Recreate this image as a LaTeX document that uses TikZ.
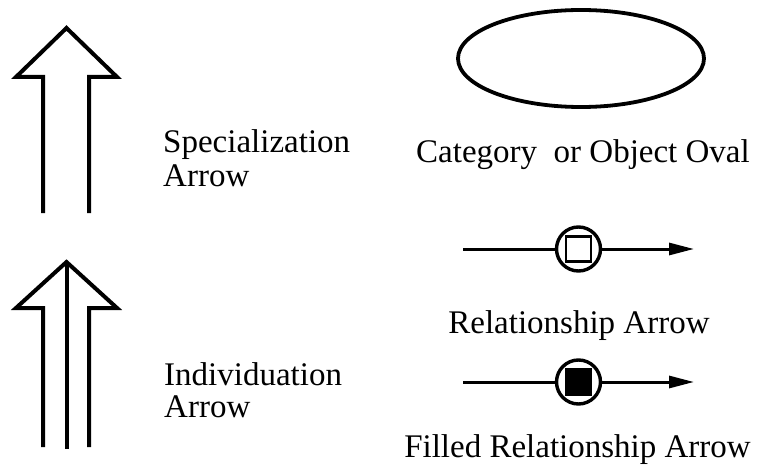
\documentclass[tikz,border=0pt]{standalone}
\usepackage{fontspec}
\setmainfont{Liberation Serif}
\usetikzlibrary{arrows.meta,shapes.geometric}
\begin{document}
\begin{tikzpicture}[x=1pt,y=-1pt,
  label/.style={inner sep=0pt,font=\fontsize{33}{33}\selectfont},
  widearrow/.style={line width=4pt,miter limit=10,line join=miter},
  relline/.style={line width=3pt},
  relring/.style={circle,draw,line width=3.4pt,minimum size=44pt,inner sep=0pt},
  relbox/.style={rectangle,draw,line width=2.8pt,minimum size=25pt,inner sep=0pt},
  relhead/.style={-{Triangle[length=25pt,width=12pt]}}]
\useasboundingbox (0,0) rectangle (758,476);

% specialization arrow: hollow double-lined arrow
\coordinate (sL) at (43,213);
\coordinate (sR) at (89,213);
\coordinate (sTip) at (66.5,28);
\draw[widearrow] (sL) -- (43,77) -- (16,77) -- (sTip) -- (117,77) -- (89,77) -- (sR);

% individuation arrow: same with a centre line
\coordinate (iL) at (43,447);
\coordinate (iR) at (89,447);
\coordinate (iM) at (66.5,449);
\coordinate (iTip) at (66.5,262);
\draw[widearrow] (iL) -- (43,308) -- (16,308) -- (iTip) -- (117,308) -- (89,308) -- (iR);
\draw[widearrow] (iTip) -- (iM);

\node[label,anchor=base west] (spec1) at (163,153) {Specialization};
\node[label,anchor=base west] (spec2) at (163,186) {Arrow};
\node[label,anchor=base west] (ind1) at (164,385) {Individuation};
\node[label,anchor=base west] (ind2) at (164,417) {Arrow};

% category / object oval
\node[ellipse,draw,line width=3.8pt,minimum width=246pt,minimum height=97pt,inner sep=0pt] (oval) at (581,58.5) {};
\node[label,anchor=base] (ovallbl) at (583,163) {Category\ \ or Object Oval};

% relationship arrow
\node[relring] (ring1) at (578.5,249) {};
\node[relbox] (box1) at (578.5,249) {};
\coordinate (r1a) at (463,249);
\coordinate (r1b) at (694,249);
\draw[relline] (r1a) -- (ring1);
\draw[relline,relhead] (ring1) -- (r1b);
\node[label,anchor=base] (rel1lbl) at (579,333) {Relationship Arrow};

% filled relationship arrow
\node[relring] (ring2) at (578.5,382) {};
\node[relbox,fill=black] (box2) at (578.5,382) {};
\coordinate (r2a) at (463,382);
\coordinate (r2b) at (694,382);
\draw[relline] (r2a) -- (ring2);
\draw[relline,relhead] (ring2) -- (r2b);
\node[label,anchor=base] (rel2lbl) at (577.5,457) {Filled Relationship Arrow};
\end{tikzpicture}
\end{document}
